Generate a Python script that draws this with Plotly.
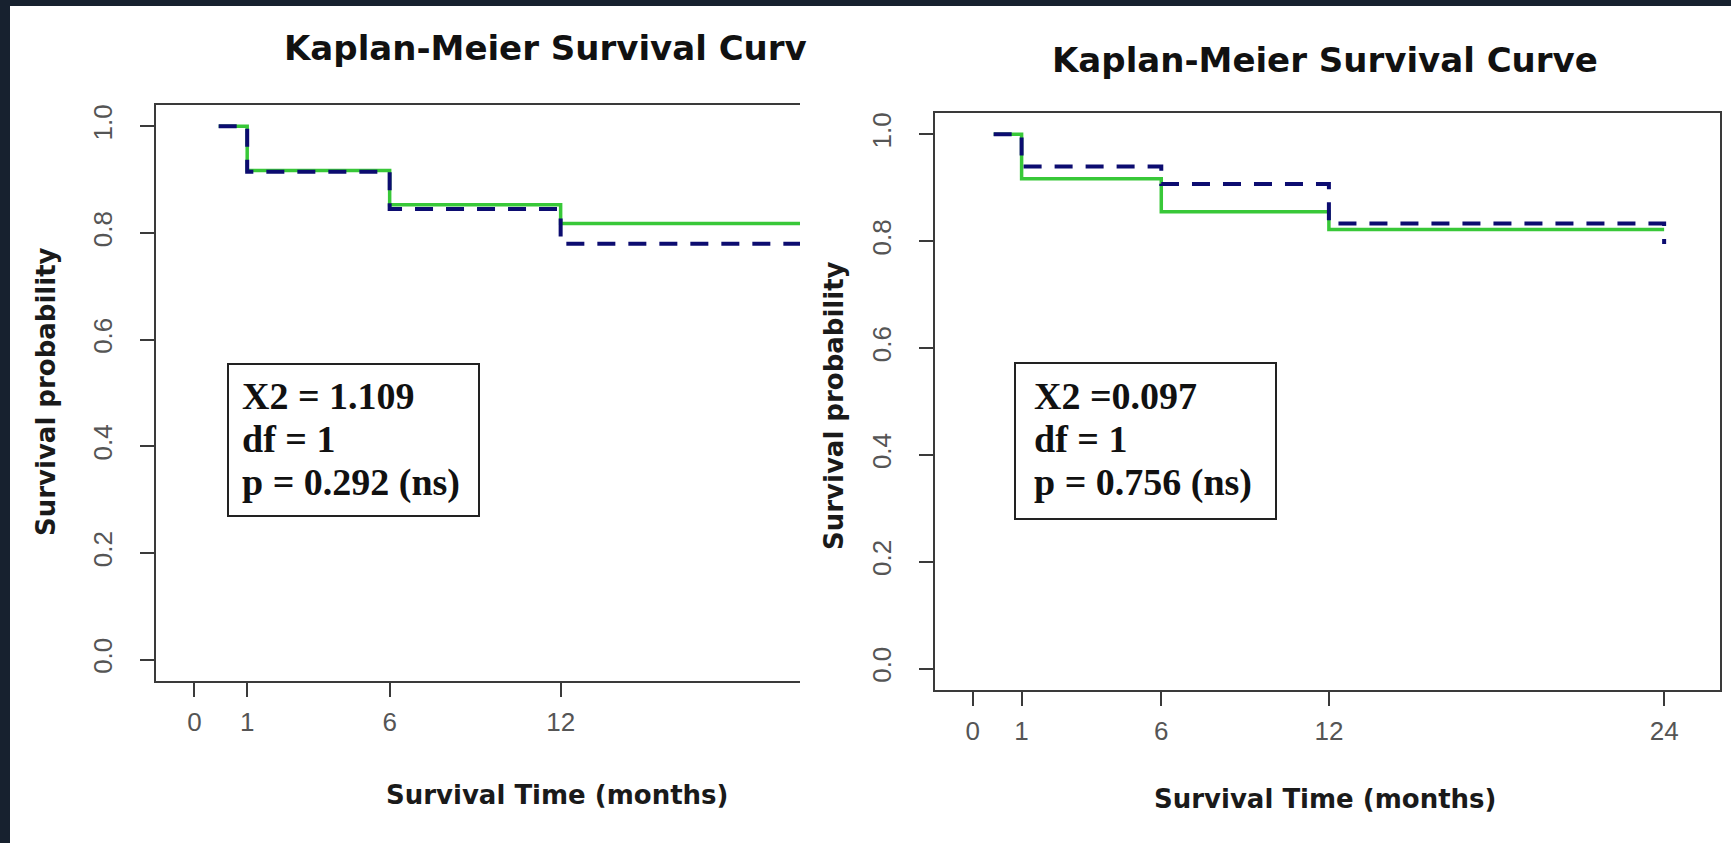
import plotly.graph_objects as go

W, H = 1731, 843

# ---------------- data ----------------
time_left = [0, 1, 6, 12, 24]
surv_left_green = [1.0, 0.917, 0.853, 0.818, 0.818]
surv_left_blue = [1.0, 0.915, 0.845, 0.780, 0.780]

time_right = [0, 1, 6, 12, 24]
surv_right_green = [1.0, 0.917, 0.855, 0.822, 0.822]
surv_right_blue = [1.0, 0.940, 0.907, 0.833, 0.795]

x_tick_pos_left = [-0.85, 1, 6, 12]
x_tick_text_left = ["0", "1", "6", "12"]
x_tick_pos_right = [-0.75, 1, 6, 12, 24]
x_tick_text_right = ["0", "1", "6", "12", "24"]
y_tick_vals = [0.0, 0.2, 0.4, 0.6, 0.8, 1.0]
y_tick_text = ["0.0", "0.2", "0.4", "0.6", "0.8", "1.0"]

title_text = "Kaplan-Meier Survival Curve"
title_left_text = "Kaplan-Meier Survival Curv"
x_title = "Survival Time (months)"
y_title = "Survival probability"
stats_left = ["X2 = 1.109", "df = 1", "p = 0.292 (ns)"]
stats_right = ["X2 =0.097", "df = 1", "p = 0.756 (ns)"]

# ---------------- styling ----------------
GREEN = "#38c838"
NAVY = "#0c0c70"
AXC = "#3a3a3a"
TICKC = "#555555"
DARK = "#17212f"


def px(xp):
    return xp / W


def py(yp):
    return 1 - yp / H


fig = go.Figure()

fig.add_trace(go.Scatter(x=time_left, y=surv_left_green, mode="lines", line=dict(shape="hv", color=GREEN, width=3.5),
                         xaxis="x", yaxis="y", showlegend=False, hoverinfo="skip"))
fig.add_trace(go.Scatter(x=time_left, y=surv_left_blue, mode="lines", line=dict(shape="hv", color=NAVY, width=4, dash="18px,13px"),
                         xaxis="x", yaxis="y", showlegend=False, hoverinfo="skip"))
fig.add_trace(go.Scatter(x=time_right, y=surv_right_green, mode="lines", line=dict(shape="hv", color=GREEN, width=3.5),
                         xaxis="x2", yaxis="y2", showlegend=False, hoverinfo="skip"))
fig.add_trace(go.Scatter(x=time_right, y=surv_right_blue, mode="lines", line=dict(shape="hv", color=NAVY, width=4, dash="18px,13px"),
                         xaxis="x2", yaxis="y2", showlegend=False, hoverinfo="skip"))

tickfont = dict(family="Liberation Sans Narrow, Liberation Sans, Arial", size=26, color=TICKC)
common_x = dict(showgrid=False, zeroline=False, showline=True, linecolor=AXC, linewidth=2, mirror=True,
                ticks="outside", ticklen=14, tickwidth=2, tickcolor=AXC, tickfont=tickfont,
                ticklabelstandoff=3, fixedrange=True)
common_y = dict(showgrid=False, zeroline=False, showline=True, linecolor=AXC, linewidth=2,
                ticks="outside", ticklen=14, tickwidth=2, tickcolor=AXC, tickfont=tickfont, tickangle=-90,
                ticklabelstandoff=18,
                range=[-0.04, 1.04], tickvals=y_tick_vals, ticktext=y_tick_text, fixedrange=True)

fig.update_layout(
    width=W, height=H,
    margin=dict(l=0, r=0, t=0, b=0),
    paper_bgcolor=DARK,
    plot_bgcolor="white",
    xaxis=dict(common_x, domain=[px(156), px(800)], range=[-2.2, 20.4], anchor="y",
               tickvals=x_tick_pos_left, ticktext=x_tick_text_left),
    yaxis=dict(common_y, domain=[py(681), py(105)], anchor="x", mirror=False),
    xaxis2=dict(common_x, domain=[px(935), px(1720)], range=[-2.1, 26.0], anchor="y2",
                tickvals=x_tick_pos_right, ticktext=x_tick_text_right),
    yaxis2=dict(common_y, domain=[py(690), py(113)], anchor="x2", mirror=True),
)

shapes = [
    dict(type="rect", xref="paper", yref="paper", x0=px(10), x1=1.0, y0=0.0, y1=py(6),
         fillcolor="white", line=dict(width=0), layer="below"),
    dict(type="rect", xref="paper", yref="paper", x0=px(228), x1=px(479), y0=py(516), y1=py(364),
         line=dict(color="#222222", width=2), fillcolor="rgba(0,0,0,0)", layer="above"),
    dict(type="rect", xref="paper", yref="paper", x0=px(1015), x1=px(1276), y0=py(519), y1=py(363),
         line=dict(color="#222222", width=2), fillcolor="rgba(0,0,0,0)", layer="above"),
]
fig.update_layout(shapes=shapes)

title_font = dict(family="DejaVu Sans", size=34, color="#111111")
axis_title_font = dict(family="DejaVu Sans", size=26, color="#1a1a1a")
stat_font = dict(family="Liberation Serif", size=38, color="#111111")

annotations = [
    dict(text="<b>" + title_left_text + "</b>", x=px(282), y=py(48), xref="paper", yref="paper",
         xanchor="left", yanchor="middle", showarrow=False, font=title_font),
    dict(text="<b>" + title_text + "</b>", x=px(1325), y=py(60), xref="paper", yref="paper",
         xanchor="center", yanchor="middle", showarrow=False, font=title_font),
    dict(text="<b>" + x_title + "</b>", x=px(557), y=py(795), xref="paper", yref="paper",
         xanchor="center", yanchor="middle", showarrow=False, font=axis_title_font),
    dict(text="<b>" + x_title + "</b>", x=px(1325), y=py(799), xref="paper", yref="paper",
         xanchor="center", yanchor="middle", showarrow=False, font=axis_title_font),
    dict(text="<b>" + y_title + "</b>", x=px(46), y=py(392), xref="paper", yref="paper", textangle=-90,
         xanchor="center", yanchor="middle", showarrow=False, font=axis_title_font),
    dict(text="<b>" + y_title + "</b>", x=px(834), y=py(406), xref="paper", yref="paper", textangle=-90,
         xanchor="center", yanchor="middle", showarrow=False, font=axis_title_font),
]

line_centers = [396, 439, 482]
for lines, x0 in ((stats_left, 240), (stats_right, 1032)):
    for s, yc in zip(lines, line_centers):
        annotations.append(dict(text="<b>" + s + "</b>", x=px(x0), y=py(yc), xref="paper", yref="paper",
                                xanchor="left", yanchor="middle", align="left", showarrow=False, font=stat_font))
fig.update_layout(annotations=annotations)

fig.write_html(
    "out.html",
    config={"displayModeBar": False},
    post_script="document.body.style.margin='0px';document.body.style.overflow='hidden';"
                "document.body.style.background='" + DARK + "';",
)
